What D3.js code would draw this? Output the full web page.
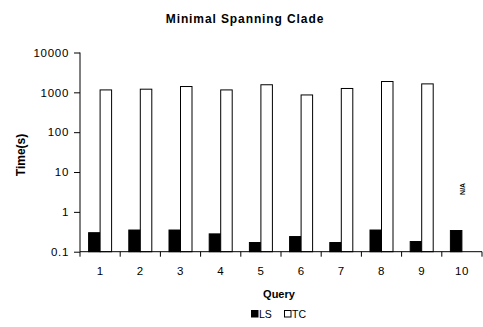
<!DOCTYPE html>
<html>
<head>
<meta charset="utf-8">
<script src="https://cdn.jsdelivr.net/npm/d3@7"></script>
<style>
  body { margin: 0; background: #fff; }
  text { font-family: "Liberation Sans", Arial, sans-serif; }
</style>
</head>
<body>
<div id="chart"></div>
<script>
const queries = ["1", "2", "3", "4", "5", "6", "7", "8", "9", "10"]
const lsTimes = [0.3, 0.35, 0.35, 0.28, 0.17, 0.24, 0.17, 0.35, 0.18, 0.34]
const tcTimes = [1150, 1200, 1400, 1150, 1550, 860, 1250, 1870, 1630, null]
const yTicks = [0.1, 1, 10, 100, 1000, 10000]
const seriesNames = ["LS", "TC"]

const W = 483, H = 327
const MARGIN = { LEFT: 80, RIGHT: 1, TOP: 52.5, BOTTOM: 75.3 }
const WIDTH = W - MARGIN.LEFT - MARGIN.RIGHT
const HEIGHT = H - MARGIN.TOP - MARGIN.BOTTOM
const FONT = "'Liberation Sans', Arial, sans-serif"

const svg = d3.select("#chart").append("svg")
    .attr("width", W)
    .attr("height", H)

const g = svg.append("g")
    .attr("transform", `translate(${MARGIN.LEFT}, ${MARGIN.TOP})`)

// Scales
const x = d3.scaleBand()
    .domain(queries)
    .range([0, WIDTH])
const x1 = d3.scaleBand()
    .domain(seriesNames)
    .range([8.6, x.bandwidth() - 8.6])
const y = d3.scaleLog()
    .domain([0.1, 10000])
    .range([HEIGHT, 0])

// Title
svg.append("text")
    .attr("x", 245)
    .attr("y", 23)
    .attr("text-anchor", "middle")
    .attr("font-size", "12px")
    .attr("font-weight", "bold")
    .attr("letter-spacing", "0.9px")
    .text("Minimal Spanning Clade")

// Bars
const rows = queries.map((q, i) => ({ q, LS: lsTimes[i], TC: tcTimes[i] }))
const groups = g.selectAll("g.grp").data(rows).enter().append("g")
    .attr("class", "grp")
    .attr("transform", d => `translate(${x(d.q)},0)`)

groups.selectAll("rect")
    .data(d => seriesNames.map(s => ({ s, v: d[s] })).filter(e => e.v != null))
    .enter().append("rect")
    .attr("x", d => x1(d.s))
    .attr("width", x1.bandwidth())
    .attr("y", d => y(d.v))
    .attr("height", d => HEIGHT - y(d.v))
    .attr("fill", d => d.s === "LS" ? "#000" : "#fff")
    .attr("stroke", "#000")
    .attr("stroke-width", 1)

// N/A label
rows.filter(d => d.TC == null).forEach(d => {
    const cx = x(d.q) + x1("TC") + x1.bandwidth() / 2 - 5
    g.append("text")
        .attr("transform", `translate(${cx},${y(1) - 23}) rotate(-90)`)
        .attr("text-anchor", "middle")
        .attr("dy", "0.35em")
        .attr("font-size", "7px")
        .attr("font-weight", "bold")
        .text("N/A")
})

// Y Axis
const yAxis = g.append("g")
    .call(d3.axisLeft(y).tickValues(yTicks).tickFormat(d => String(d)).tickSize(6).tickPadding(5))
yAxis.select(".domain").attr("d", `M0,0V${HEIGHT}`)
yAxis.selectAll("text")
    .attr("font-size", "11.5px")
    .attr("letter-spacing", "0.7px")
    .attr("font-family", FONT)

// X Axis
const xAxis = g.append("g")
    .attr("transform", `translate(0, ${HEIGHT})`)
    .call(d3.axisBottom(x).tickSize(0).tickPadding(15))
xAxis.select(".domain").attr("d", `M0,0H${WIDTH}`)
xAxis.selectAll("text")
    .attr("font-size", "11.5px")
    .attr("letter-spacing", "0.5px")
    .attr("font-family", FONT)
xAxis.selectAll(".bound").data(d3.range(queries.length + 1)).enter().append("line")
    .attr("class", "bound")
    .attr("x1", i => i * x.step())
    .attr("x2", i => i * x.step())
    .attr("y1", 0)
    .attr("y2", 5)
    .attr("stroke", "#000")

// Axis labels
svg.append("text")
    .attr("x", 279)
    .attr("y", 298)
    .attr("text-anchor", "middle")
    .attr("font-size", "11px")
    .attr("font-weight", "bold")
    .text("Query")

svg.append("text")
    .attr("transform", `translate(25, 155) rotate(-90)`)
    .attr("text-anchor", "middle")
    .attr("font-size", "12px")
    .attr("font-weight", "bold")
    .text("Time(s)")

// Legend
const legend = svg.append("g").attr("transform", "translate(251, 310)")
const lx = [0, 33]
seriesNames.forEach((s, i) => {
    legend.append("rect")
        .attr("x", lx[i] + 0.5)
        .attr("y", 0.5)
        .attr("width", 6.5)
        .attr("height", 6.5)
        .attr("fill", s === "LS" ? "#000" : "#fff")
        .attr("stroke", "#000")
    legend.append("text")
        .attr("x", lx[i] + 8)
        .attr("y", 7.5)
        .attr("font-size", "10.5px")
        .text(s)
})
</script>
</body>
</html>
